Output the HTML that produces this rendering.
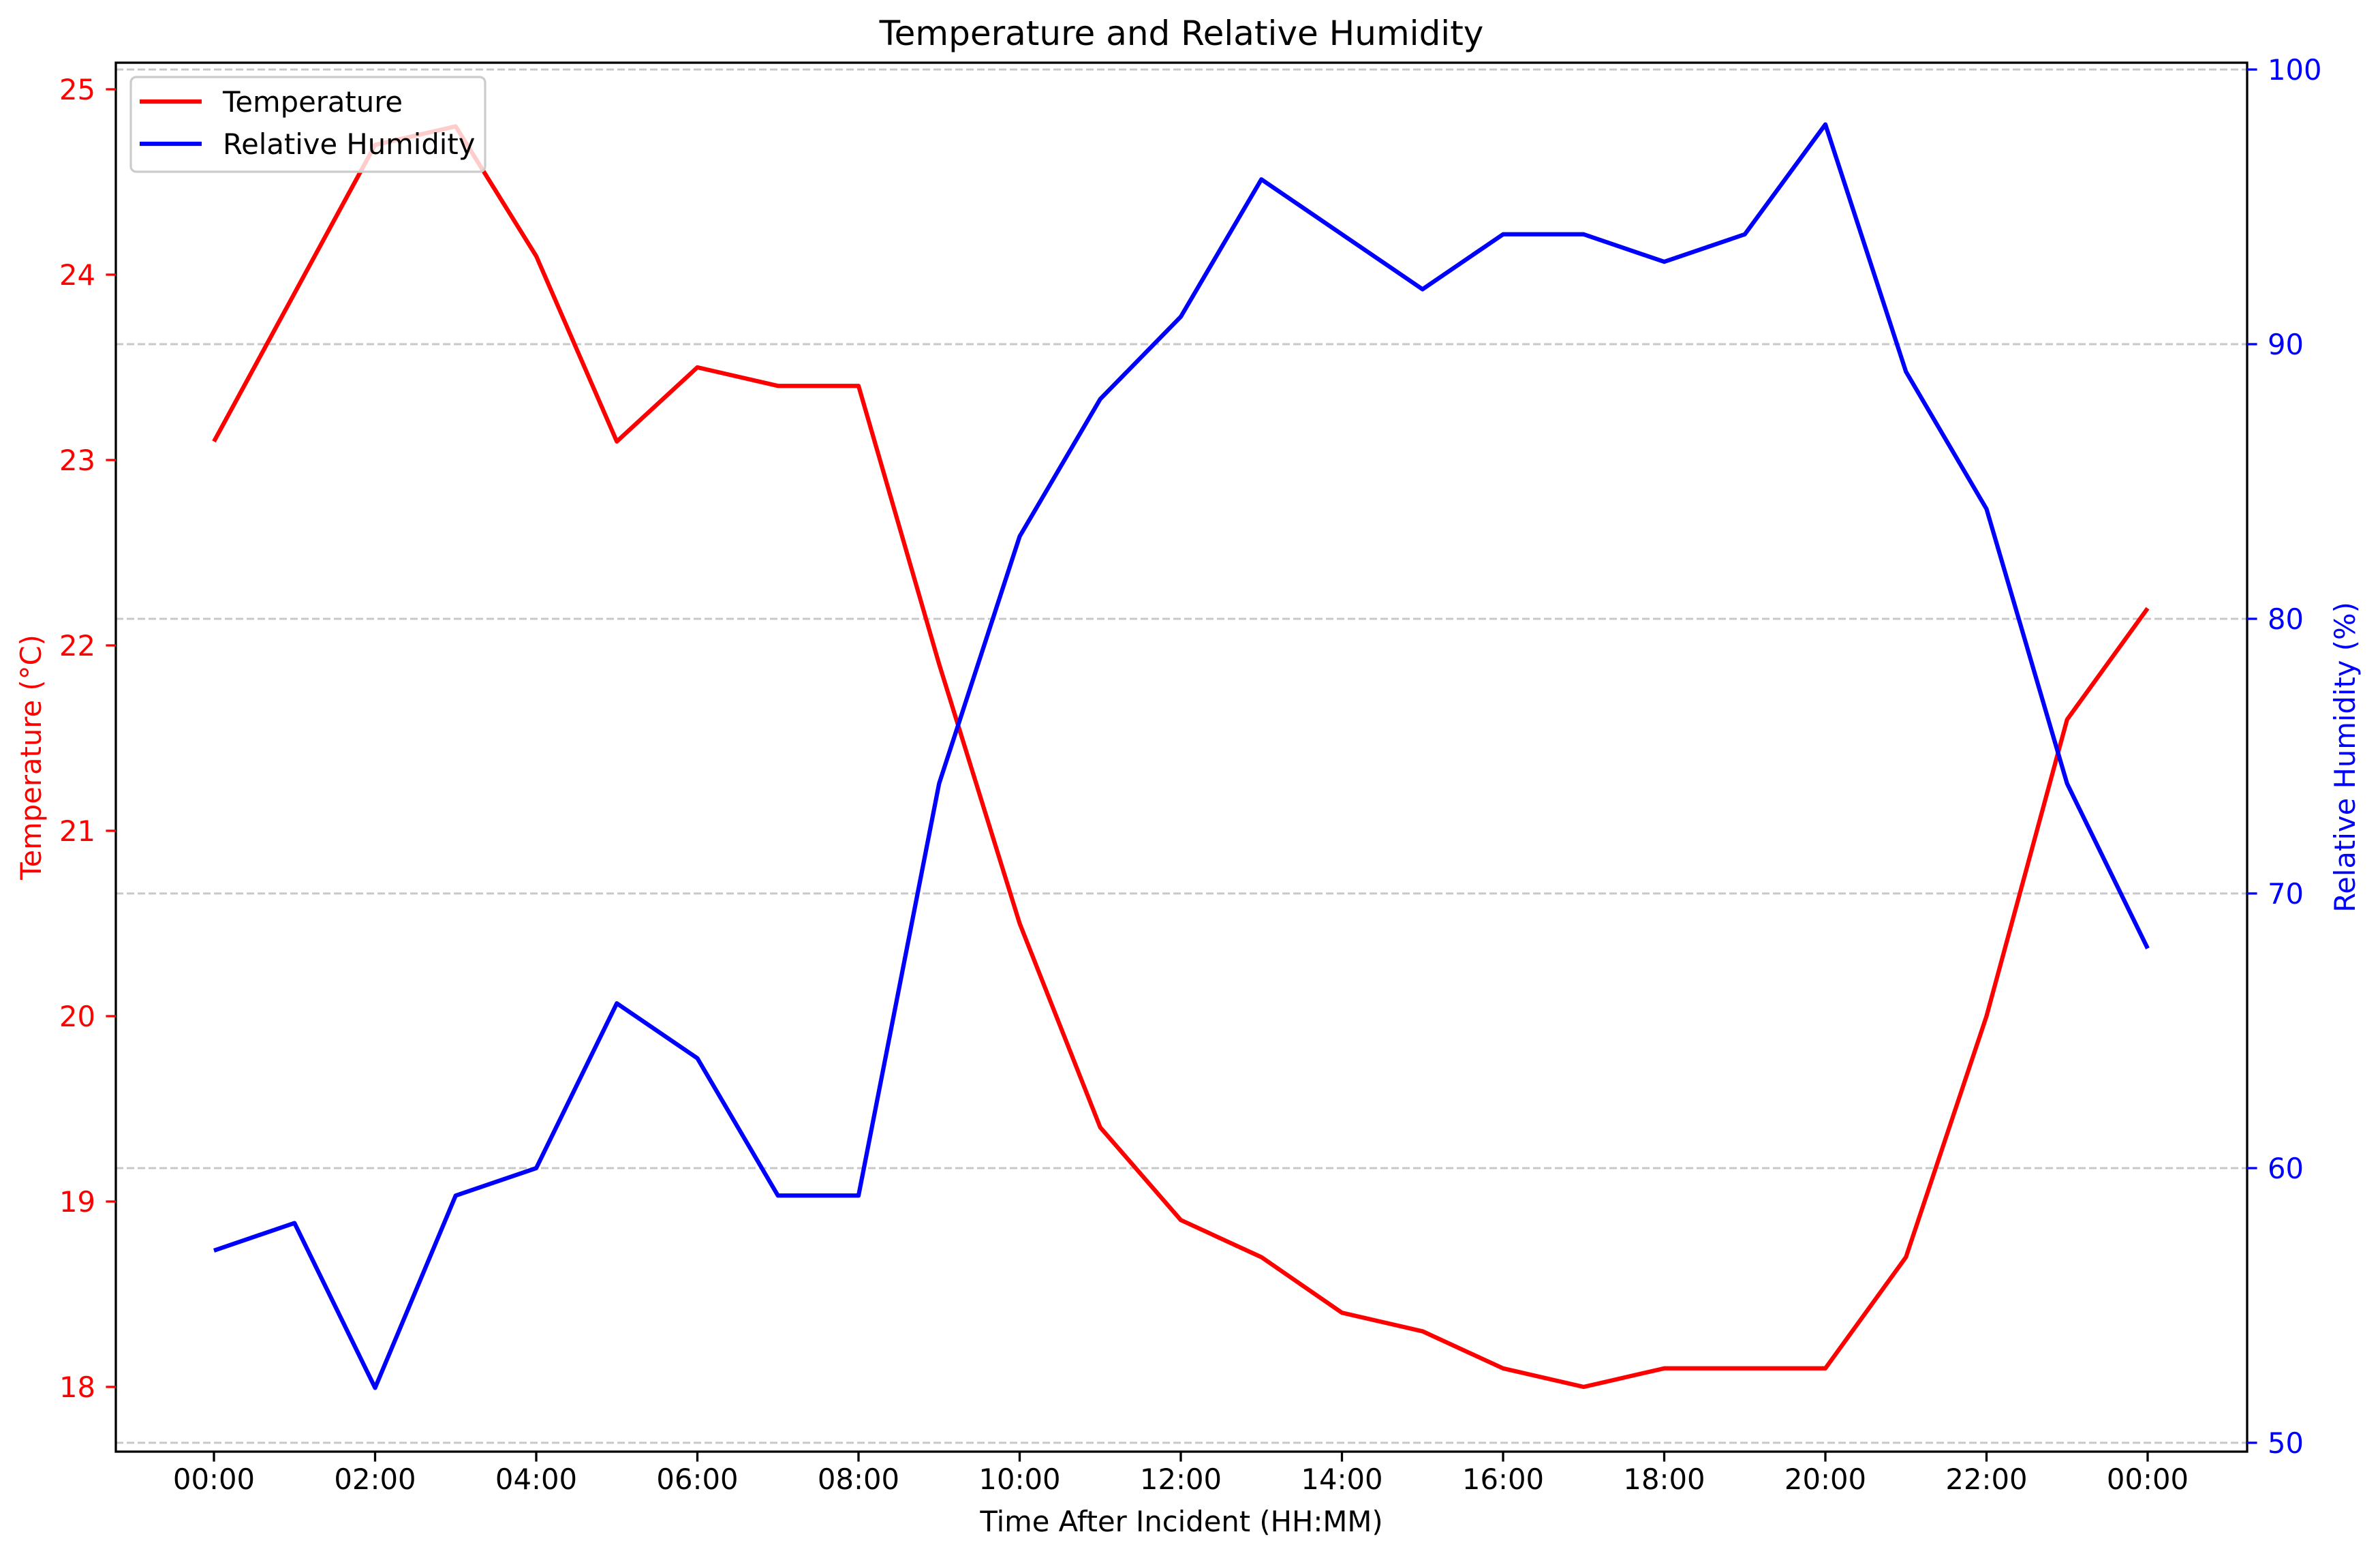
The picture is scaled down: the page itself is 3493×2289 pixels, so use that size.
<!DOCTYPE html>
<html><head><meta charset="utf-8"><style>
html,body{margin:0;padding:0;background:#fff}
svg{display:block;font-family:"DejaVu Sans","Liberation Sans",sans-serif}
</style></head><body>
<svg id="chart" width="3493" height="2289" viewBox="0 0 3493 2289" xmlns="http://www.w3.org/2000/svg">
<rect width="3493" height="2289" fill="#fff"/>
<g id="grid"></g>
<g id="series"></g>
<g id="axes"></g>
<text x="1734" y="66" font-size="50" text-anchor="middle">Temperature and Relative Humidity</text>
<text x="1734" y="2247" font-size="41.7" text-anchor="middle">Time After Incident (HH:MM)</text>
<text transform="translate(60,1111) rotate(-90)" font-size="41.7" text-anchor="middle" fill="#ff0000">Temperature (°C)</text>
<text transform="translate(3456,1111) rotate(-90)" font-size="41.7" text-anchor="middle" fill="#0000ff">Relative Humidity (%)</text>
<g>
<rect x="192" y="113" width="520" height="139" rx="8" fill="#fff" fill-opacity="0.8" stroke="#cccccc" stroke-width="3.3"/>
<line x1="205" y1="149" x2="296" y2="149" stroke="#ff0000" stroke-width="6.25"/>
<text x="327" y="164" font-size="41.7">Temperature</text>
<line x1="205" y1="211" x2="296" y2="211" stroke="#0000ff" stroke-width="6.25"/>
<text x="327" y="226" font-size="41.7">Relative Humidity</text>
</g>
</svg>
<script>
const hours = [0,1,2,3,4,5,6,7,8,9,10,11,12,13,14,15,16,17,18,19,20,21,22,23,24];
const temperature = [23.1,23.9,24.7,24.8,24.1,23.1,23.5,23.4,23.4,21.9,20.5,19.4,18.9,18.7,18.4,18.3,18.1,18.0,18.1,18.1,18.1,18.7,20.0,21.6,22.2];
const humidity = [57,58,52,59,60,66,64,59,59,74,83,88,91,96,94,92,94,94,93,94,98,89,84,74,68];
const xTickHours = [0,2,4,6,8,10,12,14,16,18,20,22,24];
const xTickLabels = ["00:00","02:00","04:00","06:00","08:00","10:00","12:00","14:00","16:00","18:00","20:00","22:00","00:00"];
const tempTicks = [18,19,20,21,22,23,24,25];
const humTicks = [50,60,70,80,90,100];

const NS = "http://www.w3.org/2000/svg";
const L = 170, R = 3298, T = 92, B = 2130;
function xs(h){ return 314 + h * (3152 - 314) / 24; }
function yT(v){ return 131 + (25 - v) * 272; }
function yH(v){ return 2117 - (v - 50) * 40.3; }
function mk(tag, attrs, parent){
  const e = document.createElementNS(NS, tag);
  for (const k in attrs) e.setAttribute(k, attrs[k]);
  parent.appendChild(e);
  return e;
}
const grid = document.getElementById('grid');
const series = document.getElementById('series');
const axes = document.getElementById('axes');

humTicks.forEach(v => {
  const g = mk('line', {x1:L, x2:R, y1:yH(v), y2:yH(v), stroke:'#c8c8c8', 'stroke-width':3, 'stroke-dasharray':'11,5'}, grid);
  
  
});

const tp = mk('polyline', {points: hours.map((h,i)=>xs(h)+','+yT(temperature[i])).join(' '), fill:'none', stroke:'#ff0000', 'stroke-width':6.25, 'stroke-linejoin':'round'}, series);


const hp = mk('polyline', {points: hours.map((h,i)=>xs(h)+','+yH(humidity[i])).join(' '), fill:'none', stroke:'#0000ff', 'stroke-width':6.25, 'stroke-linejoin':'round'}, series);



const frame = mk('rect', {x:L, y:T, width:R-L, height:B-T, fill:'none', stroke:'#000', 'stroke-width':3.3}, axes);



xTickHours.forEach((h,i) => {
  const t = mk('line', {x1:xs(h), x2:xs(h), y1:B, y2:B+14.6, stroke:'#000', 'stroke-width':3.3}, axes);
  
  
  const l = mk('text', {x:xs(h), y:2185, 'font-size':41.7, 'text-anchor':'middle'}, axes);
  l.textContent = xTickLabels[i];
  
  
});
tempTicks.forEach(v => {
  const t = mk('line', {x1:L-14.6, x2:L, y1:yT(v), y2:yT(v), stroke:'#ff0000', 'stroke-width':3.3}, axes);
  
  
  const l = mk('text', {x:140, y:yT(v)+15, 'font-size':41.7, 'text-anchor':'end', fill:'#ff0000'}, axes);
  l.textContent = v;
  
  
});
humTicks.forEach(v => {
  const t = mk('line', {x1:R, x2:R+14.6, y1:yH(v), y2:yH(v), stroke:'#0000ff', 'stroke-width':3.3}, axes);
  
  
  const l = mk('text', {x:3328, y:yH(v)+15, 'font-size':41.7, 'text-anchor':'start', fill:'#0000ff'}, axes);
  l.textContent = v;
  
  
});
</script>
</body></html>
